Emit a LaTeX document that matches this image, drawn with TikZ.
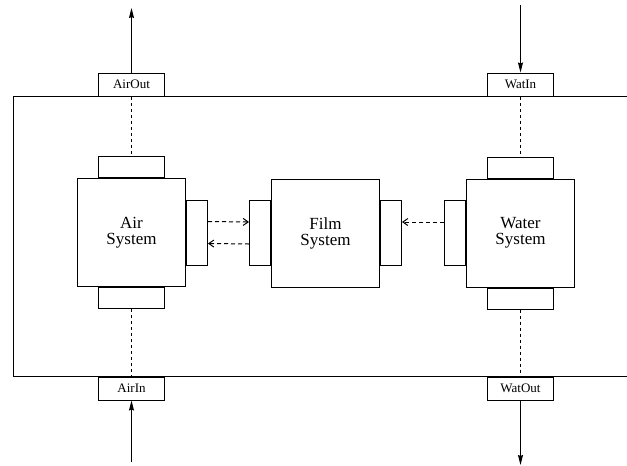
\documentclass[tikz,border=0pt]{standalone}
\usepackage{fontspec}
\setmainfont{Liberation Serif}
\usetikzlibrary{arrows.meta,positioning}

\begin{document}
\begin{tikzpicture}[x=1pt, y=-1pt,
  sysbox/.style={draw, line width=1pt, minimum width=108pt, minimum height=108pt,
                 inner sep=0pt, align=center, font=\fontsize{17}{16}\selectfont},
  hport/.style={draw, line width=1pt, minimum width=66pt, minimum height=21pt, inner sep=0pt},
  vport/.style={draw, line width=1pt, minimum width=21pt, minimum height=65pt, inner sep=0pt},
  iobox/.style={draw, line width=1pt, minimum width=66pt, minimum height=23pt,
                inner sep=0pt, font=\fontsize{13}{13}\selectfont},
  link/.style={line width=1pt, dash pattern=on 3pt off 3pt},
  flow/.style={line width=1pt, dash pattern=on 4pt off 3pt, -{Straight Barb[length=5pt,width=7pt]}},
  io/.style={line width=1pt, -{Stealth[length=10pt,width=5pt,inset=1pt]}},
]
  \useasboundingbox (0,0) rectangle (627,466);

  % Frame (runs off to the right)
  \draw[line width=1pt] (640,96.5) -- (13,96.5) -- (13,376.5) -- (640,376.5);

  % Systems
  \node[sysbox] (air)   at (131.5,232.5) {Air\\System};
  \node[sysbox] (film)  at (325.5,233)   {Film\\System};
  \node[sysbox] (water) at (520.5,233)   {Water\\System};

  % Ports on the systems
  \node[hport, above=0pt of air]   (airT) {};
  \node[hport, below=0pt of air]   (airB) {};
  \node[vport, right=0pt of air]   (airR) {};
  \node[vport, left=0pt of film]   (filmL) {};
  \node[vport, right=0pt of film]  (filmR) {};
  \node[hport, above=0pt of water] (watT) {};
  \node[hport, below=0pt of water] (watB) {};
  \node[vport, left=0pt of water]  (watL) {};

  % Ports on the frame
  \node[iobox, anchor=south] (airout) at (131.5,96.5)  {AirOut};
  \node[iobox, anchor=north] (airin)  at (131.5,376.5) {AirIn};
  \node[iobox, anchor=south] (watin)  at (520.5,96.5)  {WatIn};
  \node[iobox, anchor=north] (watout) at (520.5,376.5) {WatOut};

  % Outside ends
  \coordinate (airoutend) at (131.5,8);
  \coordinate (airinend)  at (131.5,462);
  \coordinate (watinend)  at (520.5,5);
  \coordinate (watoutend) at (520.5,465);

  % In and out of the frame
  \draw[io] (airout.north) -- (airoutend);
  \draw[io] (airinend) -- (airin.south);
  \draw[io] (watinend) -- (watin.north);
  \draw[io] (watout.south) -- (watoutend);

  % Frame ports to system ports
  \draw[link] (airout.south) -- (airT.north);
  \draw[link] (airB.south) -- (airin.north);
  \draw[link] (watin.south) -- (watT.north);
  \draw[link] (watB.south) -- (watout.north);

  % Between the systems
  \draw[flow] ([yshift=11pt]airR.east) -- ([yshift=11pt]filmL.west);
  \draw[flow] ([yshift=-11pt]filmL.west) -- ([yshift=-11pt]airR.east);
  \draw[flow] ([yshift=11pt]watL.west) -- ([yshift=11pt]filmR.east);
\end{tikzpicture}
\end{document}
